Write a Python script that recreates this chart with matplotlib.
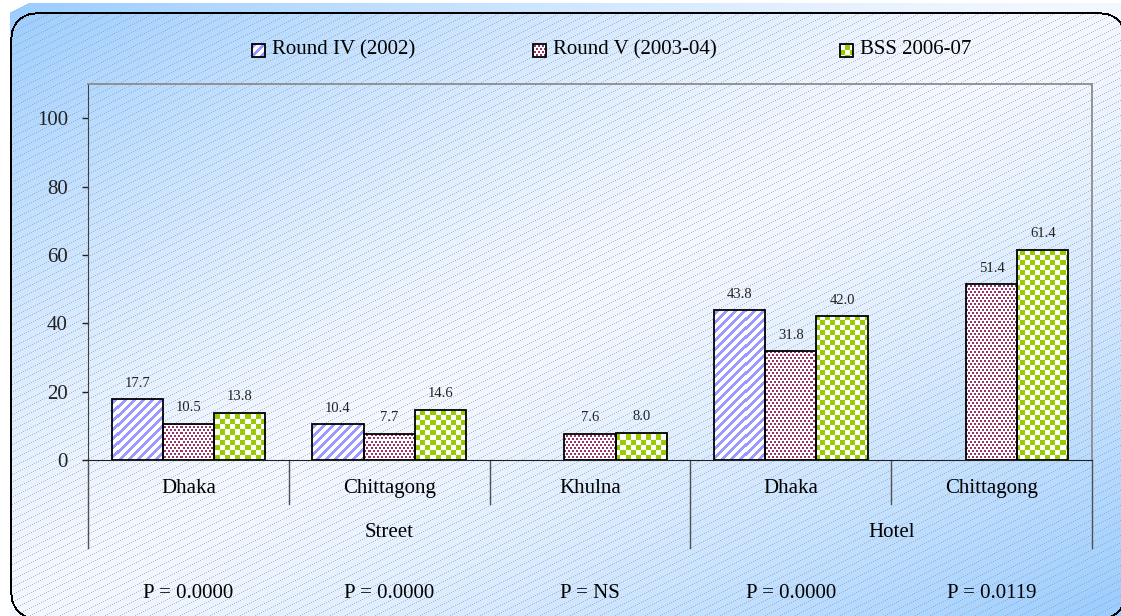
import numpy as np
import matplotlib
matplotlib.use('Agg')
import matplotlib.pyplot as plt
import matplotlib.transforms as mtransforms
from matplotlib.patches import Rectangle

plt.rcParams['font.family'] = ['Liberation Serif', 'DejaVu Serif']

# datos
lugares = ['Dhaka', 'Chittagong', 'Khulna', 'Dhaka', 'Chittagong']
grupos = ['Street', 'Hotel']
grupos_rango = [(0, 2), (3, 4)]
series_nombres = ['Round IV (2002)', 'Round V (2003-04)', 'BSS 2006-07']
ronda4 = [17.7, 10.4, np.nan, 43.8, np.nan]
ronda5 = [10.5, 7.7, 7.6, 31.8, 51.4]
bss = [13.8, 14.6, 8.0, 42.0, 61.4]
p_valores = ['P = 0.0000', 'P = 0.0000', 'P = NS', 'P = 0.0000', 'P = 0.0119']
yticks = [0, 20, 40, 60, 80, 100]

W, H = 1121, 616
fig = plt.figure(figsize=(W / 100, H / 100), dpi=100)

# --- texturas en pixeles ---
yy, xx = np.mgrid[0:H, 0:W]


def textura(mask, color):
    arr = np.ones((H, W, 4))
    arr[mask, :3] = np.array(color) / 255.0
    return arr


rayas = textura((xx + yy) % 9 < 4, (153, 153, 255))
fila = yy // 3
puntos = textura((yy % 3 < 2) & (((xx + 2 * (fila % 2)) % 4) < 2), (153, 51, 102))
cuadros = textura(((xx // 5 + yy // 5) % 2) == 0, (153, 204, 0))
patrones = [rayas, puntos, cuadros]

# --- fondo degradado con lineas diagonales ---
t = (xx / W + yy / H) / 2
s = np.abs(t - 0.5) * 2
azul = np.array([153, 204, 255]) / 255.0
blanco = np.array([244, 248, 255]) / 255.0
fondo = np.ones((H, W, 4))
fondo[..., :3] = blanco + (azul - blanco) * (s ** 1.3)[..., None]
forma = (xx >= 10) & (yy >= 3) & ((xx - 10) / 18 + (yy - 3) / 9 >= 1)
fondo[~forma, 3] = 0


def caja_redonda(x0, y0, x1, y1, r):
    cx = np.clip(xx, x0 + r, x1 - r)
    cy = np.clip(yy, y0 + r, y1 - r)
    return ((xx - cx) ** 2 + (yy - cy) ** 2 <= r ** 2) & (xx >= x0) & (yy >= y0)


exterior = caja_redonda(10, 12, 1126, 619, 25)
interior = caja_redonda(12, 14, 1124, 617, 23)
lineas = interior & ((xx + 2 * yy) % 15 == 0)
gris = np.array([150, 150, 150]) / 255.0
fondo[lineas, :3] = fondo[lineas, :3] * 0.35 + gris * 0.65
borde = exterior & ~interior
fondo[borde, :3] = 0
fondo[borde, 3] = 1

ax0 = fig.add_axes([0, 0, 1, 1], zorder=0)
ax0.imshow(fondo, extent=(0, W, H, 0), interpolation='nearest', aspect='auto', zorder=0)
ax0.axis('off')

# --- grafico principal ---
ax = fig.add_axes([88 / W, 1 - 460 / H, (1092 - 88) / W, (460 - 84) / H], zorder=1)
ax.patch.set_visible(False)

x = np.arange(len(lugares))
ancho = 0.255
desplaz = [-ancho, 0, ancho]
for serie, patron, d in zip([ronda4, ronda5, bss], patrones, desplaz):
    for xi, v in zip(x, serie):
        if np.isnan(v):
            continue
        barra = ax.bar(xi + d, v, ancho, facecolor='none', edgecolor='black', lw=1.3, zorder=3)[0]
        im = ax0.imshow(patron, extent=(0, W, H, 0), interpolation='nearest', aspect='auto', zorder=2)
        im.set_clip_path(barra)
        ax.annotate(f'{v:.1f}', (xi + d, v), xytext=(0, 7), textcoords='offset points',
                    ha='center', va='bottom', fontsize=10.5, color='#222222')

ax.set_xlim(-0.5, len(lugares) - 0.5)
ax.set_ylim(0, 110)
ax.set_yticks(yticks)
ax.set_xticks([])
ax.tick_params(axis='y', direction='out', length=4.5, width=1, pad=10, labelsize=15, colors='#222222')
for lado in ['top', 'right']:
    ax.spines[lado].set_color('#8c8c8c')
    ax.spines[lado].set_linewidth(1.3)
ax.spines['left'].set_color('#404040')
ax.spines['bottom'].set_color('#202020')

# etiquetas de categorias en dos niveles
trans = mtransforms.blended_transform_factory(ax.transData, ax.transAxes)
for xi, nombre in enumerate(lugares):
    ax.text(xi, -0.077, nombre, transform=trans, ha='center', va='center', fontsize=15)
    ax.text(xi, -0.356, p_valores[xi], transform=trans, ha='center', va='center', fontsize=15)
limites_largos = [-0.5] + [b + 0.5 for _, b in grupos_rango]
for b in np.arange(-0.5, len(lugares), 1.0):
    fondo_y = -0.234 if b in limites_largos else -0.117
    ax.plot([b, b], [0, fondo_y], transform=trans, color='#505050', lw=1, clip_on=False)
for nombre, (a, b) in zip(grupos, grupos_rango):
    ax.text((a + b) / 2, -0.194, nombre, transform=trans, ha='center', va='center', fontsize=15)

# leyenda manual
leyenda_x = [252, 533, 840]
for lx, nombre, patron in zip(leyenda_x, series_nombres, patrones):
    cuadro = Rectangle((lx, 44), 13, 13, facecolor='none', edgecolor='black', lw=1.3, zorder=3)
    ax0.add_patch(cuadro)
    im = ax0.imshow(patron, extent=(0, W, H, 0), interpolation='nearest', aspect='auto', zorder=2)
    im.set_clip_path(cuadro)
    ax0.text(lx + 20, 50, nombre, ha='left', va='center', fontsize=15)
ax0.set_xlim(0, W)
ax0.set_ylim(H, 0)

plt.savefig('out.png', dpi=100)
